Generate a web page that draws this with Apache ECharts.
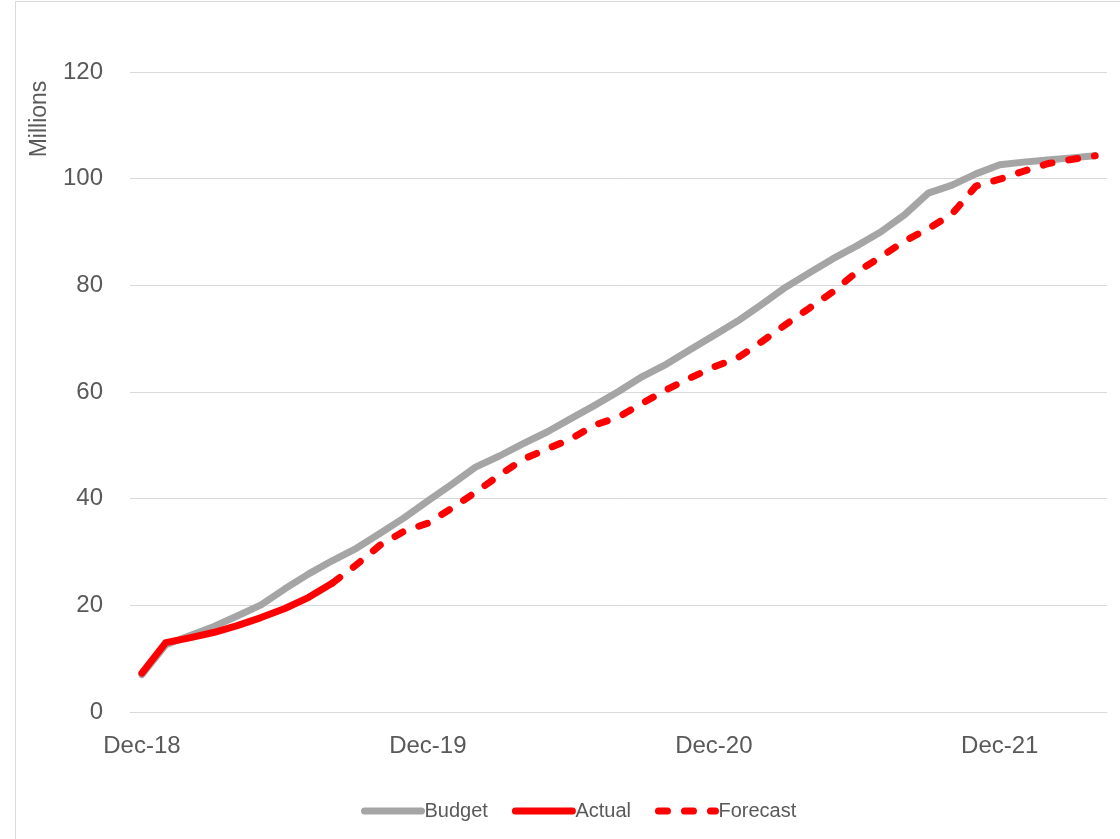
<!DOCTYPE html>
<html>
<head>
<meta charset="utf-8">
<script src="https://cdn.jsdelivr.net/npm/echarts@6/dist/echarts.min.js"></script>
<style>
html,body{margin:0;padding:0;background:#fff;}
#chart{width:1120px;height:839px;}
</style>
</head>
<body>
<div id="chart"></div>
<script>
var months = ['Dec-18','Jan-19','Feb-19','Mar-19','Apr-19','May-19','Jun-19','Jul-19','Aug-19','Sep-19','Oct-19','Nov-19',
  'Dec-19','Jan-20','Feb-20','Mar-20','Apr-20','May-20','Jun-20','Jul-20','Aug-20','Sep-20','Oct-20','Nov-20',
  'Dec-20','Jan-21','Feb-21','Mar-21','Apr-21','May-21','Jun-21','Jul-21','Aug-21','Sep-21','Oct-21','Nov-21',
  'Dec-21','Jan-22','Feb-22','Mar-22','Apr-22'];

var budget = [7.0, 12.6, 14.3, 16.0, 18.0, 20.1, 23.1, 25.9, 28.4, 30.7, 33.5, 36.4,
  39.6, 42.7, 45.9, 48.0, 50.3, 52.5, 55.0, 57.5, 60.1, 62.9, 65.2, 67.9,
  70.6, 73.3, 76.4, 79.6, 82.3, 85.0, 87.4, 90.0, 93.2, 97.3, 98.8, 100.9,
  102.6, 103.1, 103.5, 103.9, 104.3];

var actual = [7.3, 13.0, 13.9, 14.9, 16.2, 17.7, 19.4, 21.5, 24.2];

var forecast = [null, null, null, null, null, null, null, null, 24.2, 27.6, 31.3, 33.9,
  35.4, 38.2, 41.2, 44.4, 47.4, 49.3, 51.2, 53.8, 55.3, 57.9, 60.4, 62.6,
  64.7, 66.4, 69.4, 72.6, 75.7, 78.8, 82.5, 85.3, 88.3, 90.6, 93.4, 98.6,
  99.9, 101.4, 102.8, 103.6, 104.3];

var yTicks = [0, 20, 40, 60, 80, 100, 120];

var chart = echarts.init(document.getElementById('chart'));
var txt = '#595959';
var font = 'Liberation Sans, Arial, sans-serif';
var option = {
  animation: false,
  backgroundColor: '#fff',
  grid: {left: 130, right: 13, top: 72, bottom: 127, containLabel: false},
  legend: {
    data: ['Budget', 'Actual', 'Forecast'],
    bottom: 13,
    left: 356,
    itemWidth: 57,
    itemHeight: 14,
    itemGap: 24,
    itemStyle: {opacity: 0},
    lineStyle: {width: 7, cap: 'round'},
    textStyle: {color: txt, fontSize: 20, fontFamily: font, padding: [0,0,0,-2]}
  },
  xAxis: {
    type: 'category',
    data: months,
    boundaryGap: true,
    axisLine: {show: true, lineStyle: {color: '#d9d9d9', width: 1}},
    axisTick: {show: false},
    axisLabel: {
      interval: function (idx) { return idx % 12 === 0; },
      color: txt, fontSize: 24, margin: 22, fontFamily: font
    },
    splitLine: {show: false}
  },
  yAxis: {
    type: 'value',
    min: yTicks[0], max: yTicks[yTicks.length - 1], interval: 20,
    axisLine: {show: false},
    axisTick: {show: false},
    axisLabel: {color: txt, fontSize: 24, margin: 27, fontFamily: font},
    splitLine: {lineStyle: {color: '#d9d9d9', width: 1}}
  },
  graphic: [
    {type: 'rect', shape: {x: 15.5, y: 1.5, width: 1300, height: 1000}, style: {fill: 'none', stroke: '#d9d9d9', lineWidth: 1}, silent: true, z: -1},
    {type: 'text', x: 40, y: 119, rotation: Math.PI / 2,
     style: {text: 'Millions', fill: txt, fontSize: 23, fontFamily: font, align: 'center', verticalAlign: 'middle'}}
  ],
  series: [
    {name: 'Budget', type: 'line', data: budget, symbol: 'none', smooth: false,
     lineStyle: {color: '#a5a5a5', width: 7, cap: 'round', join: 'round'}, itemStyle: {color: '#a5a5a5'}, z: 1},
    {name: 'Actual', type: 'line', data: actual, symbol: 'none',
     lineStyle: {color: '#ff0000', width: 7, cap: 'round', join: 'round'}, itemStyle: {color: '#ff0000'}, z: 3},
    {name: 'Forecast', type: 'line', data: forecast, symbol: 'none',
     lineStyle: {color: '#ff0000', width: 7, type: [9, 17], cap: 'round', join: 'round'}, itemStyle: {color: '#ff0000'}, z: 2}
  ]
};
chart.setOption(option);
</script>
</body>
</html>
